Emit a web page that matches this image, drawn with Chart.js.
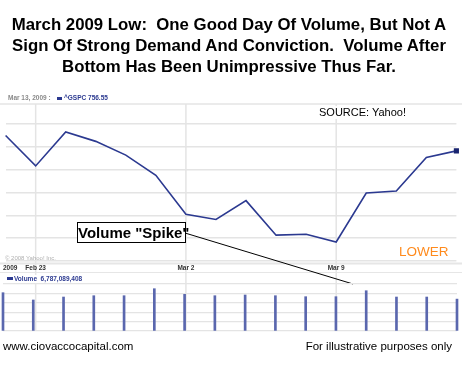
<!DOCTYPE html>
<html><head><meta charset="utf-8">
<script src="https://cdn.jsdelivr.net/npm/chart.js@4/dist/chart.umd.min.js"></script>
<style>
html,body{margin:0;padding:0;background:#fff;}
#wrap{position:relative;width:462px;height:369px;overflow:hidden;background:#fff;font-family:"Liberation Sans",Arial,sans-serif;}
canvas{position:absolute;left:0;top:0;}
.t{position:absolute;white-space:nowrap;z-index:5;}
.s{font-family:"Liberation Sans",Arial,sans-serif;font-weight:bold;font-size:6.5px;}
</style></head>
<body><div id="wrap">
<canvas id="c1" width="462" height="369"></canvas>
<canvas id="c2" width="462" height="369"></canvas>
<div class="t" id="title" style="left:0;top:14px;width:458px;text-align:center;font-weight:bold;font-size:16.8px;line-height:21px;color:#000;">March 2009 Low:&nbsp; One Good Day Of Volume, But Not A<br>Sign Of Strong Demand And Conviction.&nbsp; Volume After<br>Bottom Has Been Unimpressive Thus Far.</div>
<div class="t s" style="left:8px;top:94px;color:#8a8a8a;">Mar 13, 2009 :</div>
<div class="t" style="left:57px;top:97px;width:5px;height:3px;background:#2b3990;"></div>
<div class="t s" style="left:64px;top:94px;color:#2b3990;">^GSPC 756.55</div>
<div class="t" style="left:317px;top:106px;padding:0 2px;font-size:11px;line-height:13px;color:#000;background:#fff;">SOURCE: Yahoo!</div>
<div class="t" style="left:399px;top:244px;font-size:13.5px;color:#ff8a1c;">LOWER</div>
<div class="t" style="left:5px;top:255px;font-size:6px;color:#b0b0b0;">© 2008 Yahoo! Inc.</div>
<div class="t" style="left:7px;top:277px;width:6px;height:3px;background:#2b3990;"></div>
<div class="t s" style="left:14px;top:275px;padding-right:2px;line-height:8px;color:#2b3990;background:#fff;">Volume&nbsp; 6,787,089,408</div>
<div class="t" style="left:3px;top:340px;font-size:11.5px;color:#000;">www.ciovaccocapital.com</div>
<div class="t" style="right:10px;top:340px;font-size:11.5px;color:#000;">For illustrative purposes only</div>
<div class="t" style="left:77px;top:222px;width:107px;height:19px;border:1px solid #000;background:#fff;font-weight:bold;font-size:15px;line-height:19px;text-align:center;color:#000;">Volume "Spike"</div>
</div>
<script>
// ---- data ----
const dates = ['Feb 20','Feb 23','Feb 24','Feb 25','Feb 26','Feb 27','Mar 2','Mar 3','Mar 4','Mar 5','Mar 6','Mar 9','Mar 10','Mar 11','Mar 12','Mar 13'];
const gspcClose = [770.05,743.33,773.14,764.90,752.83,735.09,700.82,696.33,712.87,682.55,683.38,676.53,719.60,721.36,750.74,756.55];
const volumeBillions = [8.15,6.60,7.23,7.51,7.51,9.00,7.80,7.51,7.66,7.51,7.30,7.30,8.57,7.23,7.23,6.787];
const dateTickLabels = ['Feb 23','Mar 2','Mar 9'];
const priceTicks = [660,680,700,720,740,760,780];
const volumeTicks = [0,2,4,6,8,10];
const yearLabel = '2009';

const GRID = '#e4e4e4';
const LINE = '#2b3990';
const BAR = '#5a67ae';

const bandPlugin = {
  id: 'band',
  beforeDatasetsDraw(chart) {
    const ctx = chart.ctx, x = chart.scales.x, a = chart.chartArea;
    ctx.save();
    ctx.strokeStyle = GRID; ctx.lineWidth = 1.5;
    ctx.beginPath(); ctx.moveTo(0, a.top); ctx.lineTo(462, a.top); ctx.stroke();
    ctx.strokeStyle = '#e6e6e6'; ctx.lineWidth = 2;
    ctx.beginPath(); ctx.moveTo(0, a.bottom + 1.5); ctx.lineTo(462, a.bottom + 1.5); ctx.stroke();
    ctx.lineWidth = 1.2;
    ctx.beginPath(); ctx.moveTo(0, 272.5); ctx.lineTo(462, 272.5); ctx.stroke();
    ctx.strokeStyle = GRID; ctx.lineWidth = 1.5;
    dateTickLabels.forEach(l => {
      const px = x.getPixelForValue(dates.indexOf(l));
      ctx.beginPath(); ctx.moveTo(px, a.top); ctx.lineTo(px, 331); ctx.stroke();
    });
    ctx.restore();
  },
  afterDraw(chart) {
    const ctx = chart.ctx, x = chart.scales.x;
    ctx.save();
    ctx.font = 'bold 6.5px "Liberation Sans"';
    ctx.fillStyle = '#333';
    ctx.textBaseline = 'middle';
    ctx.textAlign = 'left';
    ctx.fillText(yearLabel, 3, 268);
    ctx.textAlign = 'center';
    dateTickLabels.forEach(l => {
      ctx.fillText(l, x.getPixelForValue(dates.indexOf(l)), 268);
    });
    ctx.strokeStyle = '#000'; ctx.lineWidth = 1;
    ctx.beginPath(); ctx.moveTo(185, 233); ctx.lineTo(353, 284); ctx.stroke();
    ctx.restore();
  }
};

new Chart(document.getElementById('c1'), {
  type: 'line',
  data: { labels: dates, datasets: [{
    data: gspcClose, borderColor: LINE, borderWidth: 1.6, tension: 0, fill: false,
    pointRadius: gspcClose.map((v,i) => i === gspcClose.length-1 ? 2.5 : 0),
    pointStyle: 'rect', pointBackgroundColor: '#1a2570', pointBorderColor: '#1a2570'
  }]},
  options: {
    responsive: false, animation: false, devicePixelRatio: 1,
    layout: { padding: { left: 3, right: 5, top: 104, bottom: 107 } },
    plugins: { legend: { display: false }, tooltip: { enabled: false } },
    scales: {
      x: { type: 'category', offset: false, ticks: { display: false }, grid: { display: false, drawTicks: false }, border: { display: false } },
      y: { min: 659, max: 797.7, afterBuildTicks: s => { s.ticks = priceTicks.map(v => ({ value: v })); },
           ticks: { display: false }, grid: { color: GRID, lineWidth: 1.5, drawTicks: false }, border: { display: false } }
    },
    clip: false
  },
  plugins: [bandPlugin]
});

new Chart(document.getElementById('c2'), {
  type: 'bar',
  data: { labels: dates, datasets: [{
    data: volumeBillions, backgroundColor: BAR, barThickness: 2, clip: false
  }]},
  options: {
    responsive: false, animation: false, devicePixelRatio: 1,
    layout: { padding: { left: 3, right: 5, top: 284, bottom: 38 } },
    plugins: { legend: { display: false }, tooltip: { enabled: false } },
    scales: {
      x: { type: 'category', offset: false, ticks: { display: false }, grid: { display: false, offset: false, drawTicks: false }, border: { display: false } },
      y: { min: 0, max: 10, afterBuildTicks: s => { s.ticks = volumeTicks.map(v => ({ value: v })); },
           ticks: { display: false }, grid: { color: GRID, lineWidth: 1.2, drawTicks: false }, border: { display: false } }
    }
  }
});
</script>
</body></html>
